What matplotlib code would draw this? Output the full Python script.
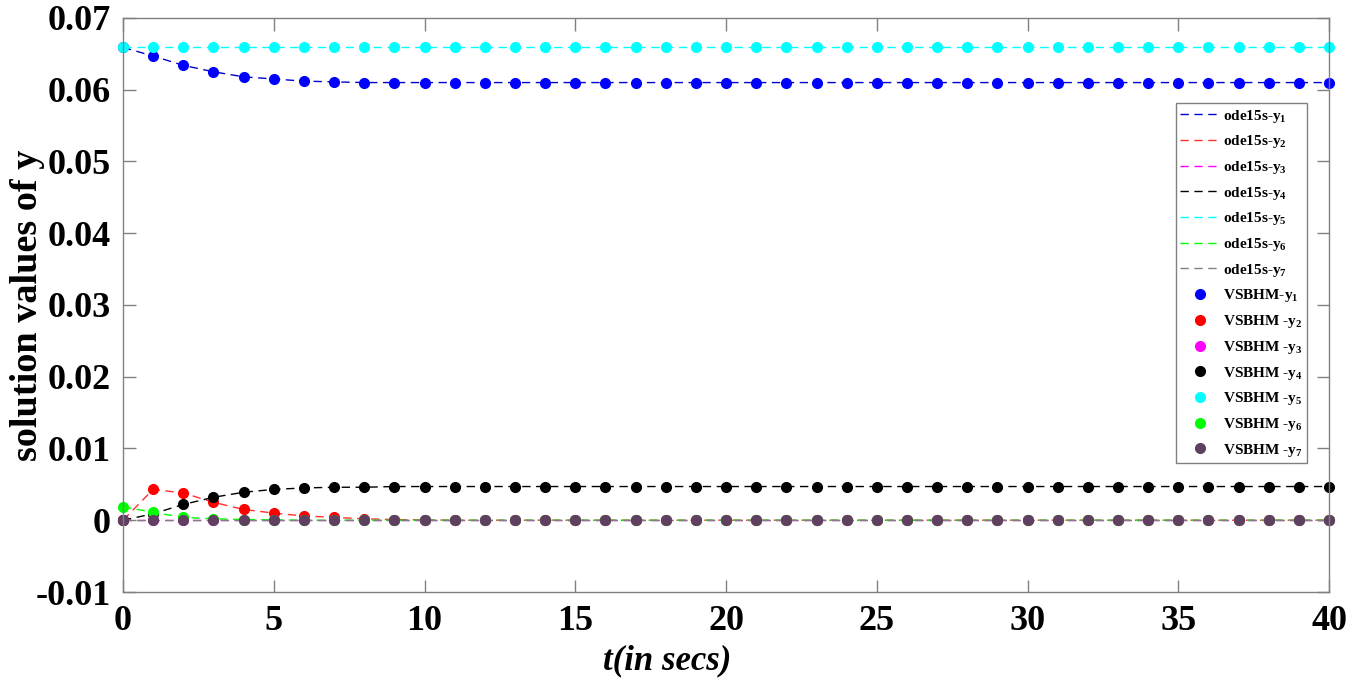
import matplotlib
matplotlib.use("Agg")
import matplotlib.pyplot as plt
import numpy as np

# time points (secs)
t = np.arange(0, 41)

# solution values
y1 = [0.0659, 0.0647, 0.0634, 0.0625, 0.0618, 0.0615, 0.0612, 0.0611, 0.0610, 0.0610,
      0.0610, 0.0610, 0.0610, 0.0610, 0.0610, 0.0610, 0.0610, 0.0610, 0.0610, 0.0610,
      0.0610, 0.0610, 0.0610, 0.0610, 0.0610, 0.0610, 0.0610, 0.0610, 0.0610, 0.0610,
      0.0610, 0.0610, 0.0610, 0.0610, 0.0610, 0.0610, 0.0610, 0.0610, 0.0610, 0.0610,
      0.0610]
y2 = [0.0, 0.0043, 0.0038, 0.0025, 0.0015, 0.0010, 0.0006, 0.0004, 0.0002, 0.0001,
      0.00005, 0.0, 0.0, 0.0, 0.0, 0.0, 0.0, 0.0, 0.0, 0.0,
      0.0, 0.0, 0.0, 0.0, 0.0, 0.0, 0.0, 0.0, 0.0, 0.0,
      0.0, 0.0, 0.0, 0.0, 0.0, 0.0, 0.0, 0.0, 0.0, 0.0,
      0.0]
y3 = [0.0, 0.0, 0.0, 0.0, 0.0, 0.0, 0.0, 0.0, 0.0, 0.0,
      0.0, 0.0, 0.0, 0.0, 0.0, 0.0, 0.0, 0.0, 0.0, 0.0,
      0.0, 0.0, 0.0, 0.0, 0.0, 0.0, 0.0, 0.0, 0.0, 0.0,
      0.0, 0.0, 0.0, 0.0, 0.0, 0.0, 0.0, 0.0, 0.0, 0.0,
      0.0]
y4 = [0.0, 0.0009, 0.0022, 0.0032, 0.0039, 0.0043, 0.0045, 0.0046, 0.0046, 0.0047,
      0.0047, 0.0047, 0.0047, 0.0047, 0.0047, 0.0047, 0.0047, 0.0047, 0.0047, 0.0047,
      0.0047, 0.0047, 0.0047, 0.0047, 0.0047, 0.0047, 0.0047, 0.0047, 0.0047, 0.0047,
      0.0047, 0.0047, 0.0047, 0.0047, 0.0047, 0.0047, 0.0047, 0.0047, 0.0047, 0.0047,
      0.0047]
y5 = [0.0659, 0.0659, 0.0659, 0.0659, 0.0659, 0.0659, 0.0659, 0.0659, 0.0659, 0.0659,
      0.0659, 0.0659, 0.0659, 0.0659, 0.0659, 0.0659, 0.0659, 0.0659, 0.0659, 0.0659,
      0.0659, 0.0659, 0.0659, 0.0659, 0.0659, 0.0659, 0.0659, 0.0659, 0.0659, 0.0659,
      0.0659, 0.0659, 0.0659, 0.0659, 0.0659, 0.0659, 0.0659, 0.0659, 0.0659, 0.0659,
      0.0659]
y6 = [0.0019, 0.0011, 0.0004, 0.0002, 0.0001, 0.00005, 0.0, 0.0, 0.0, 0.0,
      0.0, 0.0, 0.0, 0.0, 0.0, 0.0, 0.0, 0.0, 0.0, 0.0,
      0.0, 0.0, 0.0, 0.0, 0.0, 0.0, 0.0, 0.0, 0.0, 0.0,
      0.0, 0.0, 0.0, 0.0, 0.0, 0.0, 0.0, 0.0, 0.0, 0.0,
      0.0]
y7 = [0.0, 0.0, 0.0, 0.0, 0.0, 0.0, 0.0, 0.0, 0.0, 0.0,
      0.0, 0.0, 0.0, 0.0, 0.0, 0.0, 0.0, 0.0, 0.0, 0.0,
      0.0, 0.0, 0.0, 0.0, 0.0, 0.0, 0.0, 0.0, 0.0, 0.0,
      0.0, 0.0, 0.0, 0.0, 0.0, 0.0, 0.0, 0.0, 0.0, 0.0,
      0.0]

series = [y1, y2, y3, y4, y5, y6, y7]
line_colors = ['#0000cc', '#ff3030', '#ff00ff', '#000000', '#00ffff', '#00ff00', '#808080']
marker_colors = ['#0000ff', '#ff0000', '#ff00ff', '#000000', '#00ffff', '#00ff00', '#5f4060']
line_labels = ['ode15s-y$_{1}$', 'ode15s-y$_{2}$', 'ode15s-y$_{3}$', 'ode15s-y$_{4}$',
               'ode15s-y$_{5}$', 'ode15s-y$_{6}$', 'ode15s-y$_{7}$']
marker_labels = ['VSBHM-y$_{1}$', 'VSBHM -y$_{2}$', 'VSBHM -y$_{3}$', 'VSBHM -y$_{4}$',
                 'VSBHM -y$_{5}$', 'VSBHM -y$_{6}$', 'VSBHM -y$_{7}$']

plt.rcParams['font.family'] = 'Liberation Serif'
plt.rcParams['font.weight'] = 'bold'
plt.rcParams['mathtext.fontset'] = 'custom'
plt.rcParams['mathtext.rm'] = 'Liberation Serif:bold'
plt.rcParams['mathtext.it'] = 'Liberation Serif:bold'
plt.rcParams['mathtext.bf'] = 'Liberation Serif:bold'

fig = plt.figure(figsize=(13.59, 6.84), dpi=100)
ax = fig.add_axes([0.0905, 0.1345, 0.8875, 0.8392])

# ode15s dashed lines
for ys, c, lab in zip(series, line_colors, line_labels):
    ax.plot(t, ys, color=c, linestyle=(0, (6, 4)), linewidth=1.0, label=lab)

# VSBHM markers
for ys, c, lab in zip(series, marker_colors, marker_labels):
    ax.plot(t, ys, linestyle='none', marker='o', markersize=7,
            color=c, markeredgecolor=c, label=lab, clip_on=False)

ax.set_xlim(0, 40)
ax.set_ylim(-0.01, 0.07)
ax.set_xticks(np.arange(0, 41, 5))
ax.set_yticks(np.arange(-0.01, 0.0701, 0.01))
ax.set_yticklabels(['-0.01', '0', '0.01', '0.02', '0.03', '0.04', '0.05', '0.06', '0.07'])

ax.tick_params(direction='in', length=9, width=1, color='#808080',
               top=True, right=True, labelsize=26, pad=9)
for lbl in ax.get_xticklabels() + ax.get_yticklabels():
    lbl.set_fontweight('bold')
for s in ax.spines.values():
    s.set_color('#808080')
    s.set_linewidth(1.0)

ax.set_xlabel('t(in secs)', fontsize=25, fontweight='bold', fontstyle='italic')
ax.xaxis.set_label_coords(0.451, -0.092)
ax.set_ylabel('solution values of y', fontsize=27.5, fontweight='bold')
ax.yaxis.set_label_coords(-0.0647, 0.5)

leg = ax.legend(loc='upper right', bbox_to_anchor=(0.982, 0.852), fontsize=11,
                numpoints=1, handlelength=2.6, handletextpad=0.2, labelspacing=0.57,
                borderpad=0.3, borderaxespad=0, fancybox=False, framealpha=1,
                edgecolor='#808080', prop={'weight': 'bold', 'size': 11})
leg.get_frame().set_linewidth(1.0)

fig.savefig('out.png', dpi=100)
